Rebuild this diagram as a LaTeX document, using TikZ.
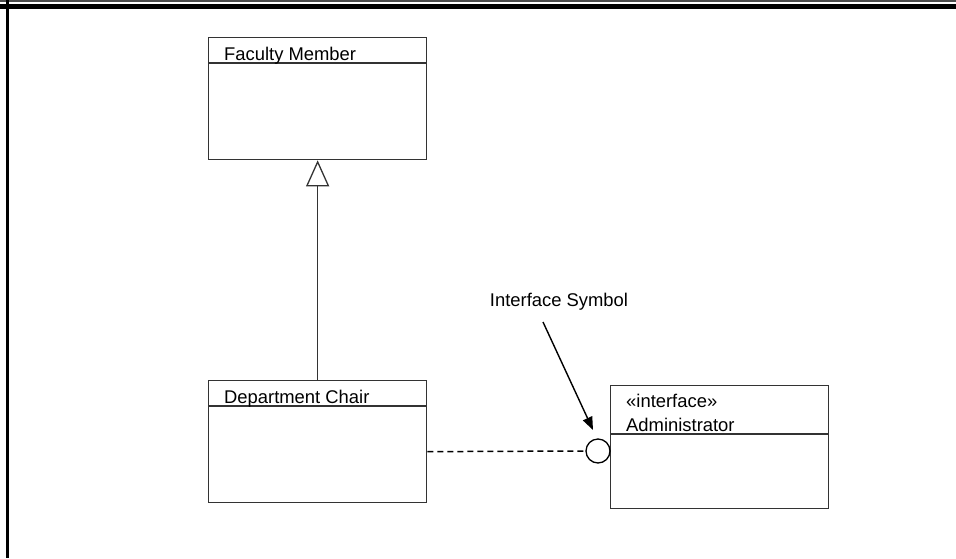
\documentclass[tikz,border=0pt]{standalone}
\usepackage{fontspec}
\setmainfont{Liberation Sans}
\usetikzlibrary{arrows.meta}
\begin{document}
\begin{tikzpicture}[x=1pt,y=-1pt,
  line join=miter,
  classbox/.style={draw=black!80, line width=1.3pt, rectangle, inner sep=0pt,
    anchor=north west},
  divider/.style={draw=black!80, line width=1.3pt},
  label/.style={anchor=base west, inner sep=0pt, font=\fontsize{18.4}{22}\selectfont},
  inherit/.style={draw=black!80, line width=1.3pt,
    -{Triangle[open, length=26pt, width=23pt, line width=1.3pt]}},
  realize/.style={draw=black, line width=1.5pt, dash pattern=on 6pt off 4pt},
  lollipop/.style={draw=black, line width=1.3pt, circle, minimum size=24pt, inner sep=0pt},
  pointer/.style={draw=black, line width=1.4pt, -{Triangle[length=13pt, width=10pt]}}]

\useasboundingbox (0,0) rectangle (956,558);

% frame: double rule along the top, heavy rule down the left side
\draw[black!70, line width=1.5pt] (0,0.75) -- (956,0.75);
\draw[black, line width=5pt] (0,6.5) -- (956,6.5);
\draw[black, line width=3pt] (7.5,0) -- (7.5,558);

% Faculty Member
\node[classbox, minimum width=218pt, minimum height=122pt] (fm) at (208,37) {};
\draw[divider] ([yshift=-26pt]fm.north west) -- ([yshift=-26pt]fm.north east);
\node[label] (fmname) at (224,60) {Faculty Member};

% Department Chair
\node[classbox, minimum width=218pt, minimum height=122pt] (dc) at (208,380) {};
\draw[divider] ([yshift=-26pt]dc.north west) -- ([yshift=-26pt]dc.north east);
\node[label] (dcname) at (224,403) {Department Chair};

% Administrator interface
\node[classbox, minimum width=218pt, minimum height=123pt] (adm) at (610,385) {};
\draw[divider] ([yshift=-49pt]adm.north west) -- ([yshift=-49pt]adm.north east);
\node[label] (admstereo) at (626,407) {«interface»};
\node[label] (admname) at (626,431) {Administrator};

% interface circle
\node[lollipop] (circ) at (598,451) {};

% generalization
\draw[inherit] (dc.north) -- (fm.south);

% realization
\draw[realize] ([yshift=-10pt]dc.east) -- (circ.west);

% callout
\node[anchor=base, inner sep=0pt, font=\fontsize{18.4}{22}\selectfont] (lbl) at (559,306) {Interface Symbol};
\coordinate (tail) at (543,322);
\coordinate (tip) at (593,430);
\draw[pointer] (tail) -- (tip);

\end{tikzpicture}
\end{document}
